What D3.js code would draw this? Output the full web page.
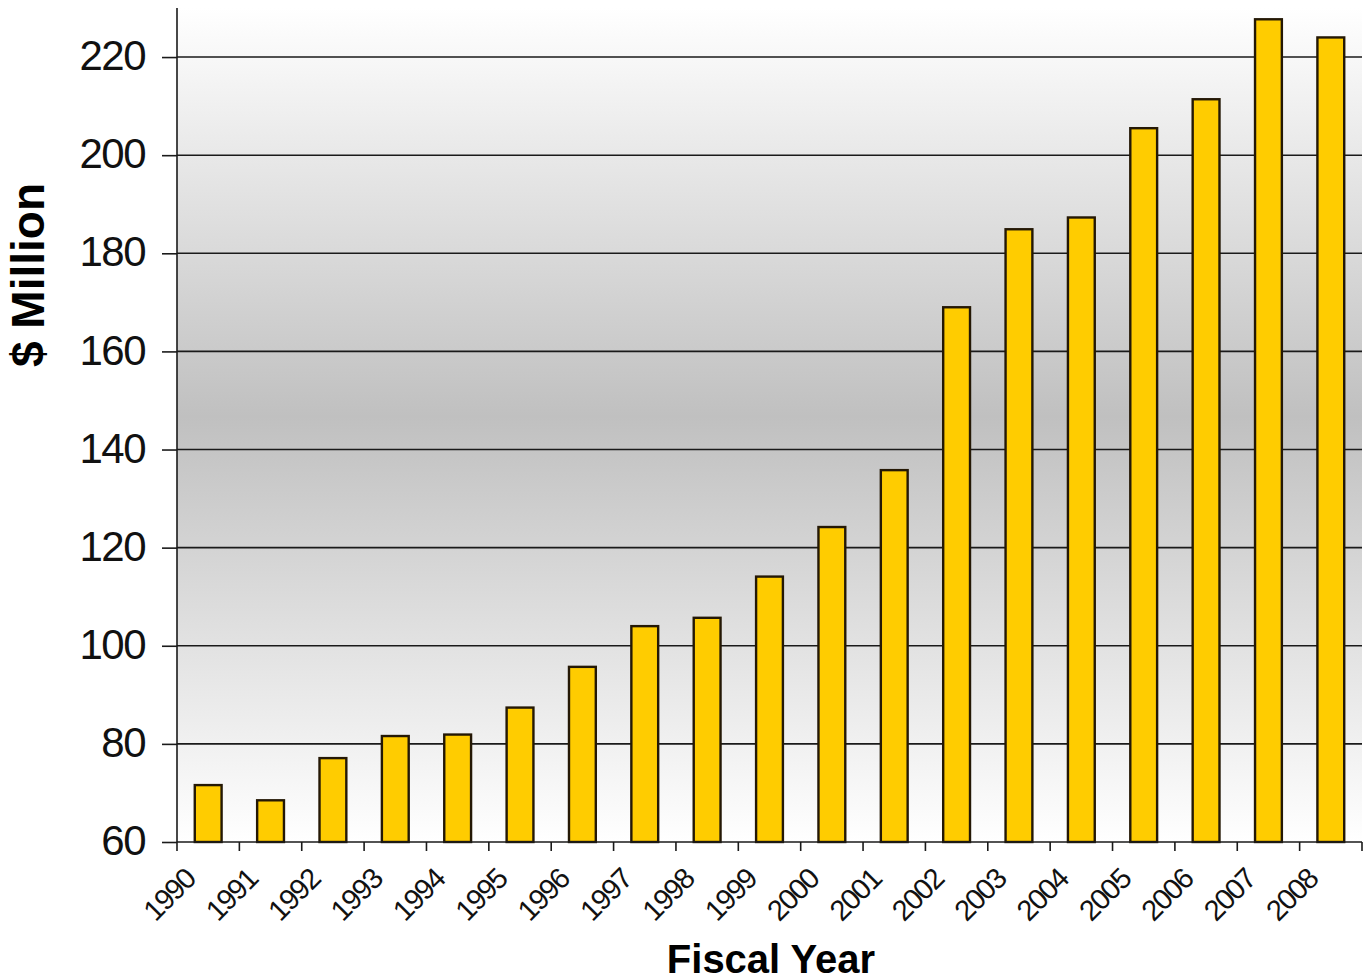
<!DOCTYPE html>
<html>
<head>
<meta charset="utf-8">
<script src="https://cdn.jsdelivr.net/npm/d3@7"></script>
<style>
    body { margin: 0; background: #ffffff; }
    svg { display: block; }
</style>
</head>
<body>
<div id="chart"></div>
<script>
// chart data
var years = ["1990", "1991", "1992", "1993", "1994", "1995", "1996", "1997", "1998", "1999",
             "2000", "2001", "2002", "2003", "2004", "2005", "2006", "2007", "2008"];
var amounts = [71.6, 68.5, 77.1, 81.6, 81.9, 87.4, 95.7, 104.0, 105.7, 114.1,
               124.2, 135.8, 169.0, 184.9, 187.3, 205.5, 211.4, 227.7, 224.0];
var yTicks = [60, 80, 100, 120, 140, 160, 180, 200, 220];

var width = 1363, height = 980;
var margin = { top: 8, right: 1, bottom: 138, left: 177 };
var plotW = width - margin.left - margin.right;
var plotH = height - margin.top - margin.bottom;

var svg = d3.select("#chart").append("svg")
    .attr("width", width)
    .attr("height", height);

// grey background gradient, light at the edges and darker in the middle
var grad = svg.append("defs").append("linearGradient")
    .attr("id", "bg")
    .attr("x1", 0).attr("y1", 0).attr("x2", 0).attr("y2", 1);
grad.append("stop").attr("offset", "0%").attr("stop-color", "#ffffff");
grad.append("stop").attr("offset", "49%").attr("stop-color", "#c0c0c0");
grad.append("stop").attr("offset", "100%").attr("stop-color", "#ffffff");

var g = svg.append("g")
    .attr("transform", "translate(" + margin.left + "," + margin.top + ")");

// scales
var x = d3.scaleBand()
    .domain(years)
    .range([0, plotW])
    .paddingInner(0.57)
    .paddingOuter(0.285);

var y = d3.scaleLinear()
    .domain([60, 230])
    .range([plotH, 0]);

g.append("rect")
    .attr("width", plotW)
    .attr("height", plotH)
    .attr("fill", "url(#bg)");

// horizontal gridlines
g.selectAll("line.grid")
    .data(yTicks.slice(1))
    .enter().append("line")
    .attr("class", "grid")
    .attr("x1", 0)
    .attr("x2", plotW)
    .attr("y1", function(d) { return y(d); })
    .attr("y2", function(d) { return y(d); })
    .attr("stroke", "#1a1a1a")
    .attr("stroke-width", 1.6);

// bars
g.selectAll("rect.bar")
    .data(amounts)
    .enter().append("rect")
    .attr("class", "bar")
    .attr("x", function(d, i) { return x(years[i]); })
    .attr("y", function(d) { return y(d); })
    .attr("width", x.bandwidth())
    .attr("height", function(d) { return plotH - y(d); })
    .attr("fill", "#ffcc00")
    .attr("stroke", "#241805")
    .attr("stroke-width", 2.4);

// y axis
var yAxis = g.append("g")
    .call(d3.axisLeft(y).tickValues(yTicks).tickSize(15).tickPadding(17));
yAxis.select(".domain")
    .attr("d", "M0," + plotH + "V0")
    .attr("stroke", "#1a1a1a")
    .attr("stroke-width", 1.6);
yAxis.selectAll(".tick line").attr("stroke", "#1a1a1a").attr("stroke-width", 1.6);
yAxis.selectAll(".tick text")
    .attr("font-family", "'Liberation Sans', Arial, sans-serif")
    .attr("font-size", 42)
    .attr("letter-spacing", -1.5)
    .attr("fill", "#111")
    .attr("dy", "0.3em");

// x axis: ticks sit on the category edges
var edges = years.map(function(d) { return x(d) - x.step() * x.paddingInner() / 2; });
edges.push(plotW);

var xAxis = g.append("g")
    .attr("transform", "translate(0," + plotH + ")");
xAxis.append("line")
    .attr("x1", 0).attr("x2", plotW)
    .attr("stroke", "#1a1a1a")
    .attr("stroke-width", 1.6);
xAxis.selectAll("line.tick")
    .data(edges)
    .enter().append("line")
    .attr("class", "tick")
    .attr("x1", function(d) { return d; })
    .attr("x2", function(d) { return d; })
    .attr("y1", 0)
    .attr("y2", 9)
    .attr("stroke", "#1a1a1a")
    .attr("stroke-width", 1.6);
xAxis.selectAll("text")
    .data(years)
    .enter().append("text")
    .attr("transform", function(d, i) { return "translate(" + (edges[i] + 20) + ",39) rotate(-45)"; })
    .attr("text-anchor", "end")
    .attr("font-family", "'Liberation Sans', Arial, sans-serif")
    .attr("font-size", 29)
    .attr("letter-spacing", -1.5)
    .attr("fill", "#111")
    .text(function(d) { return d; });

// axis titles
svg.append("text")
    .attr("x", margin.left + 594)
    .attr("y", 973)
    .attr("text-anchor", "middle")
    .attr("font-family", "'Liberation Sans', Arial, sans-serif")
    .attr("font-weight", "bold")
    .attr("font-size", 40)
    .attr("fill", "#000")
    .text("Fiscal Year");

svg.append("text")
    .attr("transform", "translate(44,275) rotate(-90)")
    .attr("text-anchor", "middle")
    .attr("font-family", "'Liberation Sans', Arial, sans-serif")
    .attr("font-weight", "bold")
    .attr("font-size", 46)
    .attr("fill", "#000")
    .text("$ Million");
</script>
</body>
</html>
